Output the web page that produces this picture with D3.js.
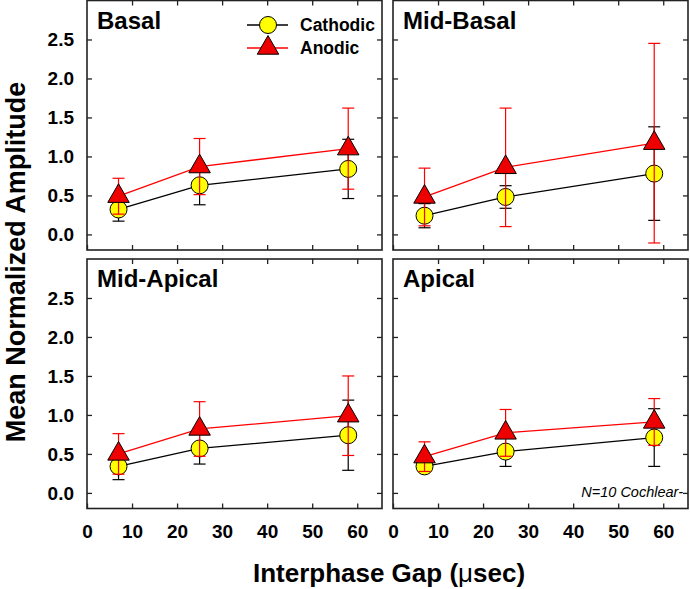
<!DOCTYPE html>
<html lang="en">
<head>
    <meta charset="utf-8">
    <title>Mean Normalized Amplitude vs Interphase Gap</title>
    <style>
        body { margin: 0; background: white; }
        text { font-family: Arial, "Liberation Sans", sans-serif; }
        .tick text { font-size: 19px; font-weight: bold; fill: black; }
        .tick line { stroke: #222; stroke-width: 1.3; }
        .frame { fill: none; stroke: #222; stroke-width: 1.6; }
        .panel-title { font-size: 24px; font-weight: bold; }
        .axis-title { font-size: 26px; font-weight: bold; }
        .legend text { font-size: 17.5px; font-weight: bold; }
        .note { font-size: 14.5px; font-style: italic; }
    </style>
</head>
<body>
<svg width="690" height="589"></svg>
<script src="https://d3js.org/d3.v7.min.js"></script>
<script>
    // interphase gap (usec)
    const gapUsec = [7, 25, 58];
    const xTicks = [0, 10, 20, 30, 40, 50, 60];
    const yTicks = [0, 0.5, 1.0, 1.5, 2.0, 2.5];
    const panelNames = ['Basal', 'Mid-Basal', 'Mid-Apical', 'Apical'];

    // means and error bars
    const basalCathodic = [0.32, 0.63, 0.84];
    const basalCathodicErr = [0.15, 0.25, 0.38];
    const basalAnodic = [0.49, 0.87, 1.10];
    const basalAnodicErr = [0.23, 0.36, 0.52];

    const midBasalCathodic = [0.24, 0.48, 0.78];
    const midBasalCathodicErr = [0.155, 0.145, 0.60];
    const midBasalAnodic = [0.48, 0.86, 1.17];
    const midBasalAnodicErr = [0.37, 0.76, 1.28];

    const midApicalCathodic = [0.34, 0.57, 0.74];
    const midApicalCathodicErr = [0.17, 0.20, 0.45];
    const midApicalAnodic = [0.50, 0.82, 0.99];
    const midApicalAnodicErr = [0.26, 0.35, 0.51];

    const apicalCathodic = [0.34, 0.53, 0.71];
    const apicalCathodicErr = [0.06, 0.19, 0.37];
    const apicalAnodic = [0.465, 0.77, 0.91];
    const apicalAnodicErr = [0.19, 0.30, 0.30];

    const panels = [
        { name: panelNames[0], cat: basalCathodic, catErr: basalCathodicErr, ano: basalAnodic, anoErr: basalAnodicErr },
        { name: panelNames[1], cat: midBasalCathodic, catErr: midBasalCathodicErr, ano: midBasalAnodic, anoErr: midBasalAnodicErr },
        { name: panelNames[2], cat: midApicalCathodic, catErr: midApicalCathodicErr, ano: midApicalAnodic, anoErr: midApicalAnodicErr },
        { name: panelNames[3], cat: apicalCathodic, catErr: apicalCathodicErr, ano: apicalAnodic, anoErr: apicalAnodicErr }
    ];

    var svg = d3.select('svg');

    var marginLeft = 87, marginTop = 0.5,
        pw = 295, ph = 249.5,
        gapX = 11, gapY = 9;

    var x = d3.scaleLinear().domain([0, 65.5]).range([0, pw]),
        y = d3.scaleLinear().domain([-0.2, 3.0]).range([ph, 0]);

    var triangle = d3.symbol().type(d3.symbolTriangle).size(200);

    panels.forEach((p, i) => {
        var col = i % 2, row = Math.floor(i / 2);
        var g = svg.append('g')
            .attr('transform', `translate(${marginLeft + col * (pw + gapX)}, ${marginTop + row * (ph + gapY)})`);

        // ticks on all four sides, pointing inward
        g.append('g').attr('transform', `translate(0, ${ph})`)
            .call(d3.axisBottom(x).tickValues(xTicks).tickSizeInner(-5).tickSizeOuter(0).tickPadding(16)
                .tickFormat(row === 1 ? d3.format('d') : ''));
        g.append('g')
            .call(d3.axisTop(x).tickValues(xTicks.slice(1)).tickSizeInner(-5).tickSizeOuter(0).tickFormat(''));
        g.append('g')
            .call(d3.axisLeft(y).tickValues(yTicks).tickSizeInner(-5).tickSizeOuter(0).tickPadding(13)
                .tickFormat(col === 0 ? d3.format('.1f') : ''));
        g.append('g').attr('transform', `translate(${pw}, 0)`)
            .call(d3.axisRight(y).tickValues(yTicks).tickSizeInner(-5).tickSizeOuter(0).tickFormat(''));
        g.selectAll('.domain').remove();
        g.selectAll('g').attr('font-family', null).attr('font-size', null);

        g.append('rect').attr('class', 'frame')
            .attr('width', pw).attr('height', ph);

        g.append('text').attr('class', 'panel-title')
            .attr('x', 10).attr('y', 28)
            .text(p.name);

        drawSeries(g, p.cat, p.catErr, '#000', 'circle');
        drawSeries(g, p.ano, p.anoErr, '#f00', 'triangle');

        if (i === 3) {
            g.append('text').attr('class', 'note')
                .attr('x', pw - 5).attr('y', ph - 12)
                .attr('text-anchor', 'end')
                .text('N=10 Cochlear-');
        }
    });

    function drawSeries(g, vals, errs, color, shape) {
        var pts = vals.map((v, k) => ({ x: gapUsec[k], y: v, e: errs[k] }));
        var eb = g.append('g').attr('stroke', color).attr('stroke-width', 1.2);
        pts.forEach(d => {
            eb.append('line').attr('x1', x(d.x)).attr('x2', x(d.x))
                .attr('y1', y(d.y - d.e)).attr('y2', y(d.y + d.e));
            [d.y - d.e, d.y + d.e].forEach(v => {
                eb.append('line').attr('x1', x(d.x) - 6).attr('x2', x(d.x) + 6)
                    .attr('y1', y(v)).attr('y2', y(v));
            });
        });
        g.append('path')
            .attr('d', d3.line().x(d => x(d.x)).y(d => y(d.y))(pts))
            .attr('fill', 'none').attr('stroke', color).attr('stroke-width', 1.3);
        marker(g.selectAll(null).data(pts).enter(), shape)
            .attr('transform', d => `translate(${x(d.x)}, ${y(d.y)})`);
    }

    function marker(sel, shape) {
        if (shape === 'circle') {
            return sel.append('circle').attr('r', 8.5)
                .attr('fill', '#ffff00').attr('stroke', '#000').attr('stroke-width', 1);
        }
        return sel.append('path').attr('d', triangle)
            .attr('fill', '#ee0000').attr('stroke', '#000').attr('stroke-width', 1);
    }

    // legend inside the first panel
    var legend = svg.append('g').attr('class', 'legend');
    [['Cathodic', '#000', 'circle', 25], ['Anodic', '#f00', 'triangle', 48]].forEach(l => {
        legend.append('line').attr('x1', 247).attr('x2', 288)
            .attr('y1', l[3]).attr('y2', l[3])
            .attr('stroke', l[1]).attr('stroke-width', 1.3);
        marker(legend.selectAll(null).data([0]).enter(), l[2])
            .attr('transform', `translate(268, ${l[3]})`);
        legend.append('text').attr('x', 300).attr('y', l[3] + 6).text(l[0]);
    });

    // axis titles
    var xTitle = svg.append('text').attr('class', 'axis-title')
        .attr('text-anchor', 'middle')
        .attr('x', 389).attr('y', 582);
    xTitle.append('tspan').text('Interphase Gap (');
    xTitle.append('tspan').attr('font-weight', 'normal').text('\u03bc');
    xTitle.append('tspan').text('sec)');

    svg.append('text').attr('class', 'axis-title')
        .attr('text-anchor', 'middle')
        .style('font-size', '27px')
        .attr('transform', 'translate(25, 262) rotate(-90)')
        .text('Mean Normalized Amplitude');
</script>
</body>
</html>
